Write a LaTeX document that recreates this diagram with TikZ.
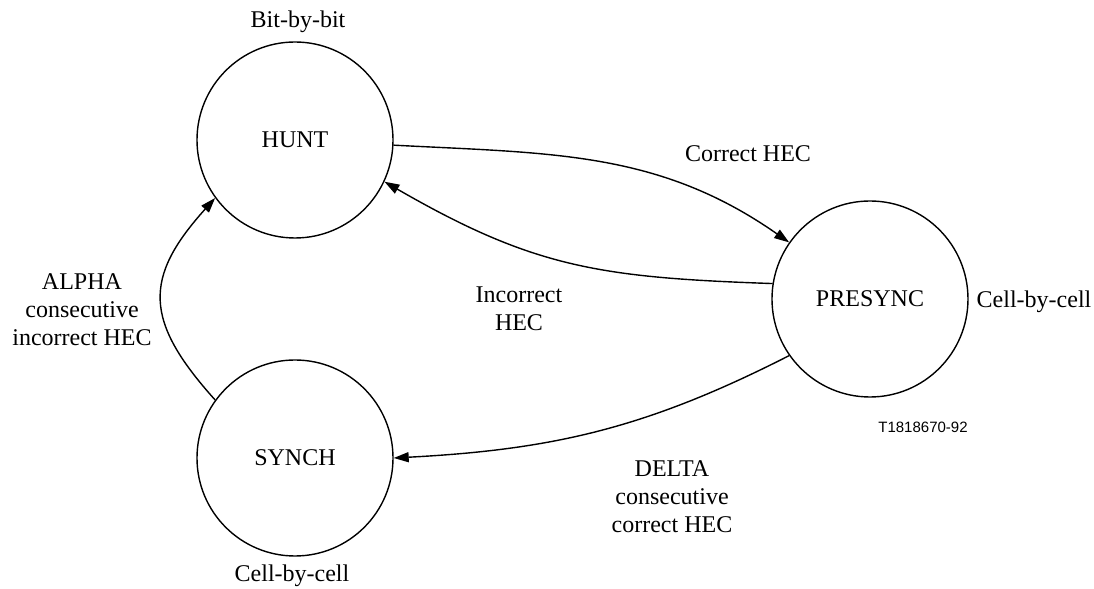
\documentclass[tikz,border=0pt]{standalone}
\usepackage{fontspec}
\setmainfont{Liberation Serif}
\newfontfamily\figsans{Liberation Sans}
\usetikzlibrary{arrows.meta}

\begin{document}
\begin{tikzpicture}[x=0.5pt,y=0.5pt,
		state/.style={draw, circle, line width=0.7pt, minimum size=98pt, inner sep=0pt},
		trans/.style={line width=0.7pt, -{Triangle[length=7.5pt,width=5pt]}},
		lbl/.style={inner sep=0pt, align=center, font=\fontsize{12}{14}\selectfont}]
		\useasboundingbox (0,0) rectangle (1094,589);
		% states
		\node [state, font=\fontsize{12}{14}\selectfont] (hunt) at (295,449) {HUNT};
		\node [state, font=\fontsize{12}{14}\selectfont] (presync) at (870,290) {PRESYNC};
		\node [state, font=\fontsize{12}{14}\selectfont] (synch) at (295,131) {SYNCH};
		%
		\draw [trans] (hunt.-3) to [out=-3, in=145] (presync.145);
		\draw [trans] (presync.171) to [out=178, in=-30, looseness=1.1] (hunt.-25);
		\draw [trans] (presync.215) to [out=207, in=3] (synch.east);
		\draw [trans] (synch.144) to [out=132, in=228, looseness=1.36] (hunt.216);
		%
		\node [lbl] (huntmode) at (298,567) {Bit-by-bit};
		\node [lbl] (presyncmode) at (1034,287) {Cell-by-cell};
		\node [lbl] (synchmode) at (292,13) {Cell-by-cell};
		\node [lbl] (correct) at (748,435) {Correct HEC};
		\node [lbl] (incorrect) at (519,280) {Incorrect\\HEC};
		\node [lbl] (alpha) at (82,279) {ALPHA\\consecutive\\incorrect HEC};
		\node [lbl] (delta) at (672,92) {DELTA\\consecutive\\correct HEC};
		\node [inner sep=0pt, font=\figsans\fontsize{7.5}{9}\selectfont] (figno) at (923,162) {T1818670-92};
	\end{tikzpicture}
\end{document}
